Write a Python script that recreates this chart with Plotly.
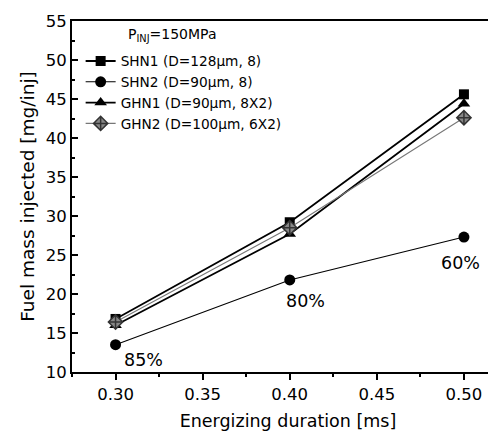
import plotly.graph_objects as go

durations = [0.30, 0.40, 0.50]
shn1 = [16.8, 29.2, 45.6]
shn2 = [13.5, 21.8, 27.3]
ghn1 = [16.0, 27.7, 44.4]
ghn2 = [16.4, 28.5, 42.6]
names = ["SHN1 (D=128\u03bcm, 8)", "SHN2 (D=90\u03bcm, 8)",
         "GHN1 (D=90\u03bcm, 8X2)", "GHN2 (D=100\u03bcm, 6X2)"]
pct_labels = ["85%", "80%", "60%"]
pct_x = [0.316, 0.409, 0.498]
pct_y = [11.5, 19.1, 24.0]
legend_title = "P<sub>INJ</sub>=150MPa"

FONT = "DejaVu Sans"
fig = go.Figure()
fig.add_trace(go.Scatter(x=durations, y=shn1, name=names[0], mode="lines+markers",
                         line=dict(color="black", width=1.8),
                         marker=dict(symbol="square", size=10, color="black")))
fig.add_trace(go.Scatter(x=durations, y=shn2, name=names[1], mode="lines+markers",
                         line=dict(color="black", width=1.1),
                         marker=dict(symbol="circle", size=11, color="black")))
fig.add_trace(go.Scatter(x=durations, y=ghn1, name=names[2], mode="lines+markers",
                         line=dict(color="black", width=1.8),
                         marker=dict(symbol="triangle-up", size=11, color="black")))
fig.add_trace(go.Scatter(x=durations, y=ghn2, name=names[3], mode="lines+markers",
                         line=dict(color="#777777", width=1.1),
                         marker=dict(symbol="diamond-cross", size=11, color="#888888",
                                     line=dict(color="#333333", width=1.5))))

for t, x, y in zip(pct_labels, pct_x, pct_y):
    fig.add_annotation(x=x, y=y, text=t, showarrow=False,
                       font=dict(family=FONT, size=17.5, color="black"))

fig.add_annotation(x=0.125, y=0.96, xref="paper", yref="paper", xanchor="left", yanchor="middle",
                   text=legend_title, showarrow=False,
                   font=dict(family=FONT, size=14, color="black"))

fig.update_layout(
    width=496, height=434,
    margin=dict(l=64, r=0, t=13, b=70),
    plot_bgcolor="white", paper_bgcolor="white",
    font=dict(family=FONT, color="black"),
    showlegend=True,
    legend=dict(x=0.02, y=0.93, xanchor="left", yanchor="top",
                bgcolor="rgba(0,0,0,0)", font=dict(family=FONT, size=13.7),
                tracegroupgap=0, itemwidth=30),
    xaxis=dict(range=[0.275, 0.523], tickvals=[0.30, 0.35, 0.40, 0.45, 0.50],
               ticktext=["0.30", "0.35", "0.40", "0.45", "0.50"],
               showgrid=False, zeroline=False, showline=True, linecolor="black", linewidth=2,
               mirror=True, ticks="outside", ticklen=6, tickwidth=1.5, tickcolor="black",
               minor=dict(ticks="outside", ticklen=3, tickwidth=1.5, dtick=0.025, tick0=0.275,
                          tickcolor="black"),
               tickfont=dict(family=FONT, size=16.5),
               title=dict(text="Energizing duration [ms]", font=dict(family=FONT, size=17.5), standoff=12)),
    yaxis=dict(range=[10, 55], dtick=5, tick0=10,
               showgrid=False, zeroline=False, showline=True, linecolor="black", linewidth=2,
               mirror=False, ticks="inside", ticklen=6, tickwidth=1.5, tickcolor="black",
               minor=dict(ticks="inside", ticklen=3, tickwidth=1.5, dtick=2.5, tickcolor="black"),
               tickfont=dict(family=FONT, size=16.5),
               title=dict(text="Fuel mass injected [mg/inj]", font=dict(family=FONT, size=18.5), standoff=6)),
)
fig.write_html("out.html")
